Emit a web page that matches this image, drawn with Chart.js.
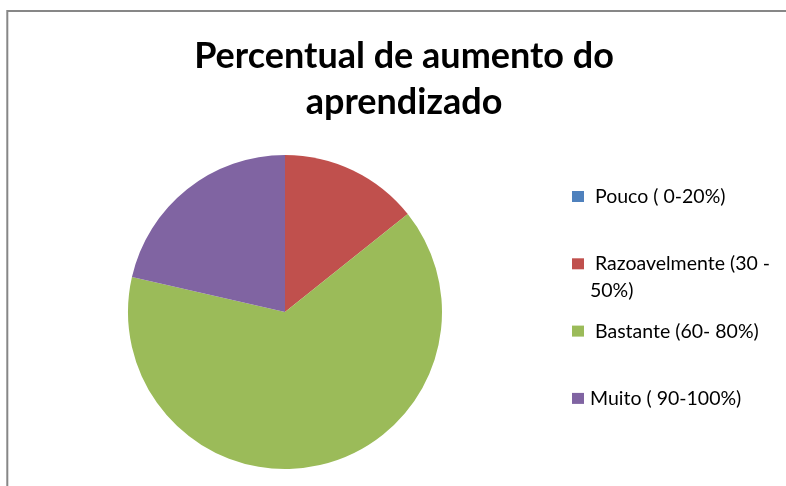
<!DOCTYPE html>
<html>
<head>
<meta charset="utf-8">
<script src="https://cdn.jsdelivr.net/npm/chart.js@4/dist/chart.umd.min.js"></script>
<style>
    html, body { margin: 0; padding: 0; background: #ffffff; }
    #wrap { width: 786px; height: 486px; }
</style>
</head>
<body>
<div id="wrap"><canvas id="pie" width="786" height="486"></canvas></div>
<script>
    // data (count of answers)
    var categories = [" Pouco ( 0-20%)", " Razoavelmente (30 - 50%)", " Bastante (60- 80%)", "Muito ( 90-100%)"];
    var answers = [0, 2, 9, 3];
    var colors = ["#4F81BD", "#C0504D", "#9BBB59", "#8064A2"];
    var titleLines = ["Percentual de aumento do", "aprendizado"];

    var fontFamily = "Lato, 'Noto Sans', sans-serif";

    //  frame, title and legend, drawn like the office chart
    var officeLook = {
        id: 'officeLook',
        beforeDraw: function (chart) {
            var ctx = chart.ctx;
            ctx.save();
            ctx.strokeStyle = "#878787";
            ctx.lineWidth = 2;
            ctx.beginPath();
            ctx.moveTo(7.3, 486);
            ctx.lineTo(7.3, 11);
            ctx.lineTo(786, 11);
            ctx.stroke();
            ctx.restore();
        },
        afterDraw: function (chart) {
            var ctx = chart.ctx;
            ctx.save();

            // title
            ctx.fillStyle = "#000000";
            ctx.textAlign = "center";
            ctx.textBaseline = "alphabetic";
            ctx.font = "bold 36px " + fontFamily;
            for (var i = 0; i < titleLines.length; i++) {
                ctx.fillText(titleLines[i], 404, 68 + i * 46);
            }

            // legend
            var labels = chart.data.labels;
            var bg = chart.data.datasets[0].backgroundColor;
            ctx.font = "19.5px " + fontFamily;
            ctx.textAlign = "left";
            for (var j = 0; j < labels.length; j++) {
                var baseY = 203 + j * 67.3;
                ctx.fillStyle = bg[j];
                ctx.fillRect(572, baseY - 12, 12, 11);
                ctx.fillStyle = "#000000";
                var lines = wrapText(ctx, labels[j], 195);
                for (var k = 0; k < lines.length; k++) {
                    ctx.fillText(lines[k], 590, baseY + k * 27);
                }
            }
            ctx.restore();
        }
    };

    function wrapText(ctx, text, maxWidth) {
        var lead = text.match(/^\s*/)[0];
        var words = text.trim().split(" ");
        var lines = [];
        var line = lead + words[0];
        for (var i = 1; i < words.length; i++) {
            var test = line + " " + words[i];
            if (ctx.measureText(test).width > maxWidth) {
                lines.push(line);
                line = words[i];
            } else {
                line = test;
            }
        }
        lines.push(line);
        return lines;
    }

    var pieCanvas = document.getElementById("pie").getContext("2d");
    var pieChart = new Chart(pieCanvas, {
        type: 'pie',
        data: {
            labels: categories,
            datasets: [
                {
                    data: answers,
                    backgroundColor: colors,
                    borderWidth: 0
                }
            ]
        },
        options: {
            responsive: false,
            animation: false,
            layout: {
                padding: { left: 128, right: 344, top: 155, bottom: 17 }
            },
            plugins: {
                legend: { display: false },
                title: { display: false },
                tooltip: { enabled: false }
            }
        },
        plugins: [officeLook]
    });
</script>
</body>
</html>
